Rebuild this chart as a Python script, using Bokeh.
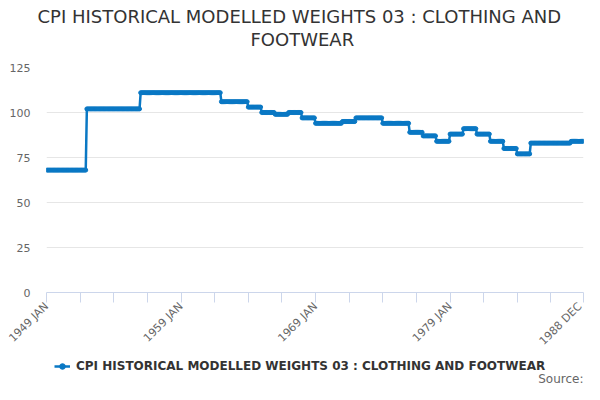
import numpy as np
from bokeh.plotting import figure
from bokeh.layouts import column
from bokeh.models import Range1d, FixedTicker, Title, Legend, LegendItem, Label
from bokeh.embed import file_html
from bokeh.resources import INLINE

years = list(range(1949, 1989))
annual_weights = [68, 68, 68, 102, 102, 102, 102, 111, 111, 111, 111, 111, 111,
                  106, 106, 103, 100, 99, 100, 97, 94, 94, 95, 97, 97, 94, 94,
                  89, 87, 84, 88, 91, 88, 84, 80, 77, 83, 83, 83, 84]
months = ["JAN", "FEB", "MAR", "APR", "MAY", "JUN", "JUL", "AUG", "SEP", "OCT", "NOV", "DEC"]
y_ticks = [0, 25, 50, 75, 100, 125]
series_name = "CPI HISTORICAL MODELLED WEIGHTS 03 : CLOTHING AND FOOTWEAR"
title_lines = ["CPI HISTORICAL MODELLED WEIGHTS 03 : CLOTHING AND", "FOOTWEAR"]

labels = [f"{y} {m}" for y in years for m in months]
values = [w for w in annual_weights for _ in months]
idx = list(range(len(labels)))

FONT = "DejaVu Sans"
COLOR = "#0a78c4"

p = figure(width=584, height=355, output_backend="svg", toolbar_location=None,
           x_range=Range1d(0, len(labels) - 1), y_range=Range1d(0, 125),
           min_border_left=46, min_border_right=1, min_border_top=67, min_border_bottom=57)
p.outline_line_color = None

# spacer, then second title line, then first line (stacked outward from the frame)
p.add_layout(Title(text=" ", text_font_size="1px", standoff=15, offset=0), "above")
p.add_layout(Title(text=title_lines[1], align="left", offset=204, text_font=FONT,
                   text_font_size="18px", text_font_style="normal", text_color="#333333",
                   standoff=0), "above")
p.add_layout(Title(text=title_lines[0], align="left", offset=-9, text_font=FONT,
                   text_font_size="18px", text_font_style="normal", text_color="#333333",
                   standoff=0), "above")

ln = p.line(idx, values, line_color=COLOR, line_width=2.5)
sc = p.scatter(idx, values, size=4, color=COLOR)

tick_pos = list(range(0, len(labels) - 1, 30)) + [len(labels) - 1]
label_pos = [0, 120, 240, 360, len(labels) - 1]
p.xaxis.ticker = FixedTicker(ticks=tick_pos)
p.xaxis.major_label_overrides = {t: (labels[t] if t in label_pos else "") for t in tick_pos}
p.xaxis.major_label_orientation = np.pi / 4
p.xaxis.axis_line_color = "#ccd6eb"
p.xaxis.major_tick_line_color = "#ccd6eb"
p.xaxis.major_tick_out = 10
p.xaxis.major_tick_in = 0
p.xaxis.minor_tick_line_color = None
p.xaxis.major_label_text_font = FONT
p.xaxis.major_label_text_font_size = "11px"
p.xaxis.major_label_text_color = "#666666"
p.xaxis.major_label_standoff = 2

p.yaxis.ticker = FixedTicker(ticks=y_ticks)
p.yaxis.axis_line_color = None
p.yaxis.major_tick_line_color = None
p.yaxis.minor_tick_line_color = None
p.yaxis.major_tick_out = 0
p.yaxis.major_tick_in = 0
p.yaxis.major_label_text_font = FONT
p.yaxis.major_label_text_font_size = "11px"
p.yaxis.major_label_text_color = "#666666"
p.yaxis.major_label_standoff = 16

p.xgrid.grid_line_color = None
p.ygrid.grid_line_color = "#e6e6e6"
p.ygrid.ticker = FixedTicker(ticks=y_ticks)

# legend strip (its frame aligns with the main frame)
q = figure(width=584, height=29, output_backend="svg", toolbar_location=None,
           x_range=Range1d(0, 1), y_range=Range1d(0, 1),
           min_border=0, x_axis_type=None, y_axis_type=None)
q.outline_line_color = None
q.xgrid.visible = False
q.ygrid.visible = False
lq = q.line([0, 1], [-10, -10], line_color=COLOR, line_width=2.5)
sq = q.scatter([0], [-10], size=4, color=COLOR)
legend = Legend(items=[LegendItem(label=series_name, renderers=[lq, sq])],
                location=(8, 11), orientation="horizontal",
                label_text_font=FONT, label_text_font_size="12px",
                label_text_font_style="bold", label_text_color="#333333",
                border_line_color=None, background_fill_alpha=0,
                glyph_width=16, glyph_height=14, label_height=14, label_standoff=6,
                padding=0, margin=0)
q.add_layout(legend, "center")
q.add_layout(Label(x=537, y=6, x_units="screen", y_units="screen", text="Source:",
                   text_font=FONT, text_font_size="12px", text_color="#666666",
                   text_align="right", text_baseline="middle"))

open("out.html", "w").write(file_html(column(p, q, spacing=0), INLINE))
